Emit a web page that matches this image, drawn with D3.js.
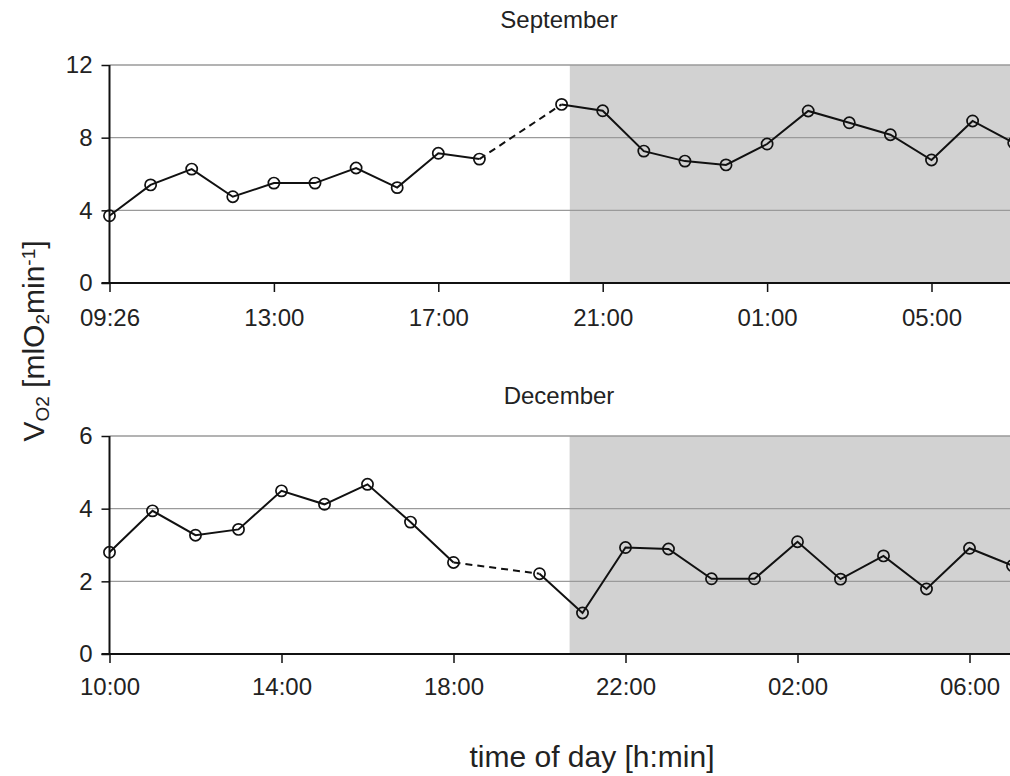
<!DOCTYPE html>
<html>
<head>
<meta charset="utf-8">
<script src="https://cdn.jsdelivr.net/npm/d3@7"></script>
<style>
  html, body { margin: 0; padding: 0; background: #fff; }
  svg { display: block; }
  text { font-family: "Liberation Sans", Arial, sans-serif; fill: #222; }
</style>
</head>
<body>
<svg id="chart" width="1010" height="776"></svg>
<script>
// ---- Data ----
const sepTimes = ["09:26","10:00","11:00","12:00","13:00","14:00","15:00","16:00","17:00","18:00","19:00","20:00",
                  "21:00","22:00","23:00","00:00","01:00","02:00","03:00","04:00","05:00","06:00","07:00"];
const sepValues = [3.7, 5.4, 6.27, 4.75, 5.5, 5.5, 6.33, 5.25, 7.14, 6.82, null, 9.83,
                   9.48, 7.26, 6.71, 6.5, 7.65, 9.47, 8.82, 8.16, 6.77, 8.92, 7.72];
const sepTickLabels = ["09:26","13:00","17:00","21:00","01:00","05:00"];
const sepNightStart = 11.2;   // position (in samples) where the dark period begins

const decTimes = ["10:00","11:00","12:00","13:00","14:00","15:00","16:00","17:00","18:00","19:00","20:00",
                  "21:00","22:00","23:00","00:00","01:00","02:00","03:00","04:00","05:00","06:00","07:00"];
const decValues = [2.8, 3.94, 3.27, 3.43, 4.49, 4.12, 4.67, 3.63, 2.52, null, 2.21,
                   1.13, 2.93, 2.89, 2.07, 2.07, 3.09, 2.06, 2.70, 1.79, 2.91, 2.43];
const decTickLabels = ["10:00","14:00","18:00","22:00","02:00","06:00"];
const decNightStart = 10.7;

const sepYTicks = [0, 4, 8, 12];
const decYTicks = [0, 2, 4, 6];

// ---- Drawing ----
const svg = d3.select("#chart");
const W = 1010;
const FONT = '"Liberation Sans", Arial, sans-serif';

function panel(cfg) {
  const g = svg.append("g");
  const x = d3.scaleLinear().domain([0, cfg.times.length - 1])
      .range([cfg.left, cfg.left + (cfg.times.length - 1) * cfg.step]);
  const y = d3.scaleLinear().domain([0, d3.max(cfg.yTicks)]).range([cfg.bottom, cfg.top]);

  // night shading
  g.append("rect")
    .attr("x", x(cfg.night)).attr("y", y(d3.max(cfg.yTicks)))
    .attr("width", W - x(cfg.night)).attr("height", y(0) - y(d3.max(cfg.yTicks)))
    .attr("fill", "#d2d2d2");

  // gridlines
  g.selectAll("line.grid").data(cfg.yTicks.filter(d => d > 0)).join("line")
    .attr("x1", cfg.left).attr("x2", W)
    .attr("y1", d => y(d)).attr("y2", d => y(d))
    .attr("stroke", "#9a9a9a").attr("stroke-width", 1.3);

  // y axis
  const yAxis = d3.axisLeft(y).tickValues(cfg.yTicks).tickFormat(d3.format("d"))
      .tickSize(8).tickPadding(9);
  const ya = g.append("g").attr("transform", `translate(${cfg.left},0)`).call(yAxis);
  ya.select(".domain").attr("stroke", "#111").attr("stroke-width", 2)
    .attr("d", `M0,${y(d3.max(cfg.yTicks))}V${y(0)}`);
  ya.selectAll(".tick line").attr("stroke", "#111").attr("stroke-width", 1.5);
  ya.selectAll(".tick text").style("font-size", "24px").attr("fill", "#222")
    .style("font-family", FONT);

  // x axis
  const tickIdx = cfg.tickLabels.map(l => cfg.times.indexOf(l));
  const xAxis = d3.axisBottom(x).tickValues(tickIdx)
      .tickFormat(i => cfg.times[i]).tickSize(9).tickPadding(cfg.xPad);
  const xa = g.append("g").attr("transform", `translate(0,${y(0)})`).call(xAxis);
  xa.select(".domain").attr("stroke", "#111").attr("stroke-width", 2)
    .attr("d", `M${cfg.left - 8},0H${W}`);
  xa.selectAll(".tick line").attr("stroke", "#111").attr("stroke-width", 1.5);
  xa.selectAll(".tick text").style("font-size", "24px").attr("fill", "#222")
    .style("font-family", FONT);

  // series
  const pts = cfg.values.map((v, i) => ({i, v}));
  const line = d3.line().defined(d => d.v != null).x(d => x(d.i)).y(d => y(d.v));
  g.append("path").datum(pts).attr("d", line)
    .attr("fill", "none").attr("stroke", "#111").attr("stroke-width", 2);

  // dashed bridges across missing samples
  const valid = pts.filter(d => d.v != null);
  for (let k = 1; k < valid.length; k++) {
    if (valid[k].i - valid[k - 1].i > 1) {
      g.append("path").datum([valid[k - 1], valid[k]])
        .attr("d", d3.line().x(d => x(d.i)).y(d => y(d.v)))
        .attr("fill", "none").attr("stroke", "#111").attr("stroke-width", 2)
        .attr("stroke-dasharray", "7,5");
    }
  }

  g.selectAll("circle").data(valid).join("circle")
    .attr("cx", d => x(d.i)).attr("cy", d => y(d.v)).attr("r", 5.6)
    .attr("fill", "none").attr("stroke", "#111").attr("stroke-width", 1.7);

  // title
  g.append("text").attr("x", 559).attr("y", cfg.titleY)
    .attr("text-anchor", "middle").style("font-size", "24px").text(cfg.title);
}

panel({times: sepTimes, values: sepValues, tickLabels: sepTickLabels, night: sepNightStart,
       yTicks: sepYTicks, left: 109.5, step: 41.1, top: 65, bottom: 283, xPad: 17,
       title: "September", titleY: 28});
panel({times: decTimes, values: decValues, tickLabels: decTickLabels, night: decNightStart,
       yTicks: decYTicks, left: 109.5, step: 43.0, top: 436, bottom: 654, xPad: 15,
       title: "December", titleY: 404});

// axis titles
svg.append("text").attr("x", 592).attr("y", 767).attr("text-anchor", "middle")
  .style("font-size", "30px").text("time of day [h:min]");

const yl = svg.append("text")
  .attr("transform", "translate(44,341) rotate(-90)")
  .attr("text-anchor", "middle").style("font-size", "30px");
yl.append("tspan").text("V");
yl.append("tspan").attr("baseline-shift", "-28%").style("font-size", "19px").text("O2");
yl.append("tspan").text(" [mlO");
yl.append("tspan").attr("baseline-shift", "-28%").style("font-size", "19px").text("2");
yl.append("tspan").text("min");
yl.append("tspan").attr("baseline-shift", "45%").style("font-size", "19px").text("-1");
yl.append("tspan").text("]");
</script>
</body>
</html>
